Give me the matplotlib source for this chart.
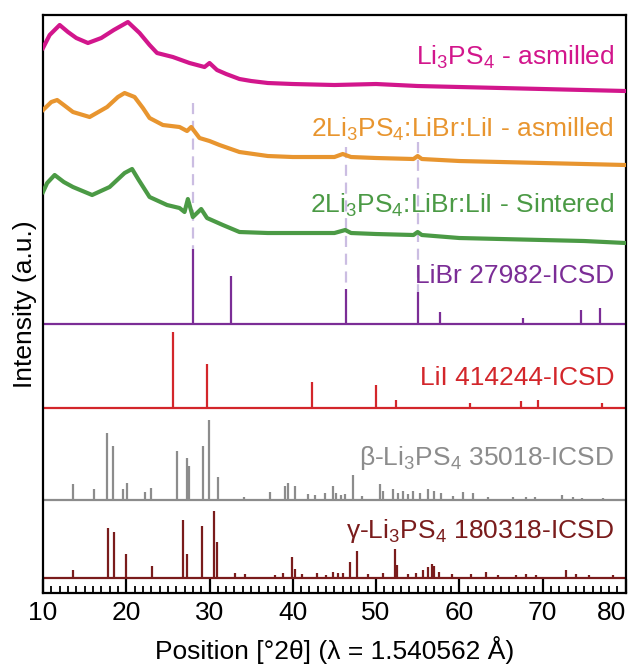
import matplotlib
matplotlib.use("Agg")
import matplotlib.pyplot as plt

plt.rcParams["font.family"] = ["Liberation Sans", "DejaVu Sans"]
plt.rcParams["mathtext.default"] = "regular"

# --- measured patterns (2theta, stacked intensity in a.u.) ---
li3ps4_tt = [10.0, 10.8, 12.0, 13.0, 14.0, 15.4, 17.0, 18.5, 20.2, 21.6, 22.8, 23.7,
             25.6, 27.6, 29.4, 30.0, 30.9, 32.0, 33.6, 35, 37, 40, 45, 50, 55, 60,
             65, 70, 75, 80]
li3ps4_int = [545, 558, 568, 561, 555, 550, 555, 563, 571, 560, 548, 540,
              536, 530, 526, 530, 523, 519, 514, 512, 510, 509, 508, 509, 507, 506,
              505, 504, 503, 502]

milled_tt = [10.0, 11.0, 11.7, 12.5, 13.6, 15.6, 17.7, 19.0, 19.8, 21.0, 22.0, 22.8,
             24.4, 26.4, 27.3, 27.8, 28.8, 30.0, 31.2, 33.6, 37, 40, 45, 46.0, 47,
             50, 54.5, 55.0, 55.5, 60, 65, 70, 75, 80]
milled_int = [483, 491, 493, 488, 481, 476, 486, 496, 500, 496, 485, 475,
              468, 466, 462, 466, 455, 452, 448, 441, 437, 436, 436, 439, 436,
              435, 434, 437, 434, 432, 431, 430, 429, 428]

sint_tt = [10.0, 10.5, 11.4, 12.5, 13.6, 15.9, 18.0, 19.8, 20.7, 21.5, 22.8, 24.9,
           26.4, 27.0, 27.4, 28.0, 29.0, 29.7, 31.6, 33.6, 37, 40, 45, 46.3, 47,
           50, 54.5, 55.0, 55.5, 60, 65, 70, 75, 80]
sint_int = [401, 410, 418, 411, 406, 398, 406, 420, 424, 413, 396, 388,
            385, 381, 394, 376, 384, 375, 368, 361, 360, 360, 360, 363, 360,
            359, 358, 361, 358, 355, 354, 353, 352, 350]

# --- ICSD reference patterns: peak positions, peak heights, baseline offset ---
libr_pos = [28.0, 32.6, 46.4, 55.0, 57.7, 67.6, 74.6, 76.9]
libr_h = [75, 48, 35, 32, 12, 6, 14, 16]
libr_base = 269

lii_pos = [25.6, 29.7, 42.3, 50.0, 52.4, 61.3, 67.4, 69.4, 77.1]
lii_h = [76, 44, 26, 23, 8, 5, 7, 8, 5]
lii_base = 185

beta_pos = [13.6, 16.1, 17.65, 18.37, 19.57, 20.05, 22.24, 22.92, 26.05, 27.25,
            27.53, 29.25, 29.93, 30.97, 34.2, 37.25, 39.05, 39.4, 40.25, 41.8,
            42.7, 43.85, 44.85, 45.25, 45.8, 46.3, 47.25, 48.3, 50.45, 50.85,
            52.05, 52.65, 53.25, 53.85, 54.45, 55.25, 56.25, 57.0, 57.8, 59.2,
            60.45, 61.7, 63.5, 66.5, 68.0, 69.1, 72.3, 73.7, 74.7, 77.3]
beta_h = [16, 11, 67, 54, 11, 17, 8, 12, 49, 42,
          34, 54, 80, 23, 3, 8, 14, 17, 14, 6,
          5, 7, 14, 7, 5, 6, 25, 4, 16, 9,
          11, 7, 9, 6, 9, 7, 11, 9, 7, 4,
          8, 7, 3, 3, 3, 3, 5, 3, 2, 2]
beta_base = 93

gamma_pos = [13.64, 17.84, 18.52, 19.96, 23.05, 26.85, 27.25, 29.05, 30.53, 30.93,
             33.05, 34.25, 37.85, 38.8, 39.85, 40.3, 41.1, 42.85, 44.05, 44.85,
             45.45, 46.05, 46.9, 47.7, 49.05, 50.85, 52.25, 52.55, 53.85, 54.85,
             55.65, 56.2, 56.7, 57.0, 57.6, 59.1, 61.4, 63.2, 64.6, 66.8, 68.0,
             69.2, 72.8, 74.0, 75.6, 78.4]
gamma_h = [8, 50, 46, 24, 12, 58, 24, 52, 67, 36,
           5, 4, 3, 5, 21, 9, 4, 5, 3, 6,
           5, 5, 16, 27, 4, 5, 29, 13, 4, 5,
           8, 11, 14, 12, 6, 4, 4, 6, 3, 3, 4,
           3, 8, 4, 3, 3]
gamma_base = 15

# guide lines at LiBr reflections: 2theta and where the dash starts
guide_pos = [28.0, 46.4, 55.0]
guide_top = [490, 446, 451]

labels = [
    (r"Li$_3$PS$_4$ - asmilled", 528, "#d2168c"),
    (r"2Li$_3$PS$_4$:LiBr:LiI - asmilled", 456, "#e8952f"),
    (r"2Li$_3$PS$_4$:LiBr:LiI - Sintered", 380, "#4b9a45"),
    ("LiBr 27982-ICSD", 310, "#7b2d96"),
    ("LiI 414244-ICSD", 208, "#d3262b"),
    (r"β-Li$_3$PS$_4$ 35018-ICSD", 128, "#8c8c8c"),
    (r"γ-Li$_3$PS$_4$ 180318-ICSD", 55, "#7a1c1c"),
]

fig = plt.figure(figsize=(6.36, 6.64), dpi=100)
ax = fig.add_axes([0.0676, 0.1069, 0.9164, 0.8705])

# dashed guides behind everything, ending at the LiBr peak tops
for pos, top in zip(guide_pos, guide_top):
    pk = libr_base + libr_h[libr_pos.index(pos)]
    ax.plot([pos, pos], [top, pk], color="#cbbde2", lw=1.6, ls=(0, (5, 3)), zorder=1)

# measured curves
ax.plot(li3ps4_tt, li3ps4_int, color="#d2168c", lw=3, zorder=3)
ax.plot(milled_tt, milled_int, color="#e8952f", lw=3, zorder=3)
ax.plot(sint_tt, sint_int, color="#4b9a45", lw=3, zorder=3)

# stick patterns
refs = [
    (libr_pos, libr_h, libr_base, "#7b2d96"),
    (lii_pos, lii_h, lii_base, "#d3262b"),
    (beta_pos, beta_h, beta_base, "#8c8c8c"),
    (gamma_pos, gamma_h, gamma_base, "#7a1c1c"),
]
for pos, h, base, col in refs:
    ax.hlines(base, 10, 80, color=col, lw=1.6, zorder=2)
    ax.vlines(pos, base, [base + v for v in h], color=col, lw=1.6, zorder=2)

for txt, y, col in labels:
    ax.text(78.6, y, txt, color=col, fontsize=19, ha="right", va="baseline")

ax.set_yticks([])
ax.set_xticks(range(10, 81, 10))
ax.set_xticks(range(10, 81), minor=True)
ax.tick_params(axis="x", which="major", direction="in", length=10, width=1.6,
               labelsize=19, pad=6)
ax.tick_params(axis="x", which="minor", direction="in", length=5, width=1.3)
for s in ax.spines.values():
    s.set_linewidth(1.6)
ax.set_xlim(10, 80)
ax.set_ylim(0, 578)

# keep the last tick label inside the figure
ax.xaxis.get_major_ticks()[-1].label1.set_horizontalalignment("right")

ax.set_xlabel("Position [°2θ] (λ = 1.540562 Å)", fontsize=19, labelpad=8)
ax.set_ylabel("Intensity (a.u.)", fontsize=19, labelpad=4)

fig.savefig("out.png", dpi=100)
